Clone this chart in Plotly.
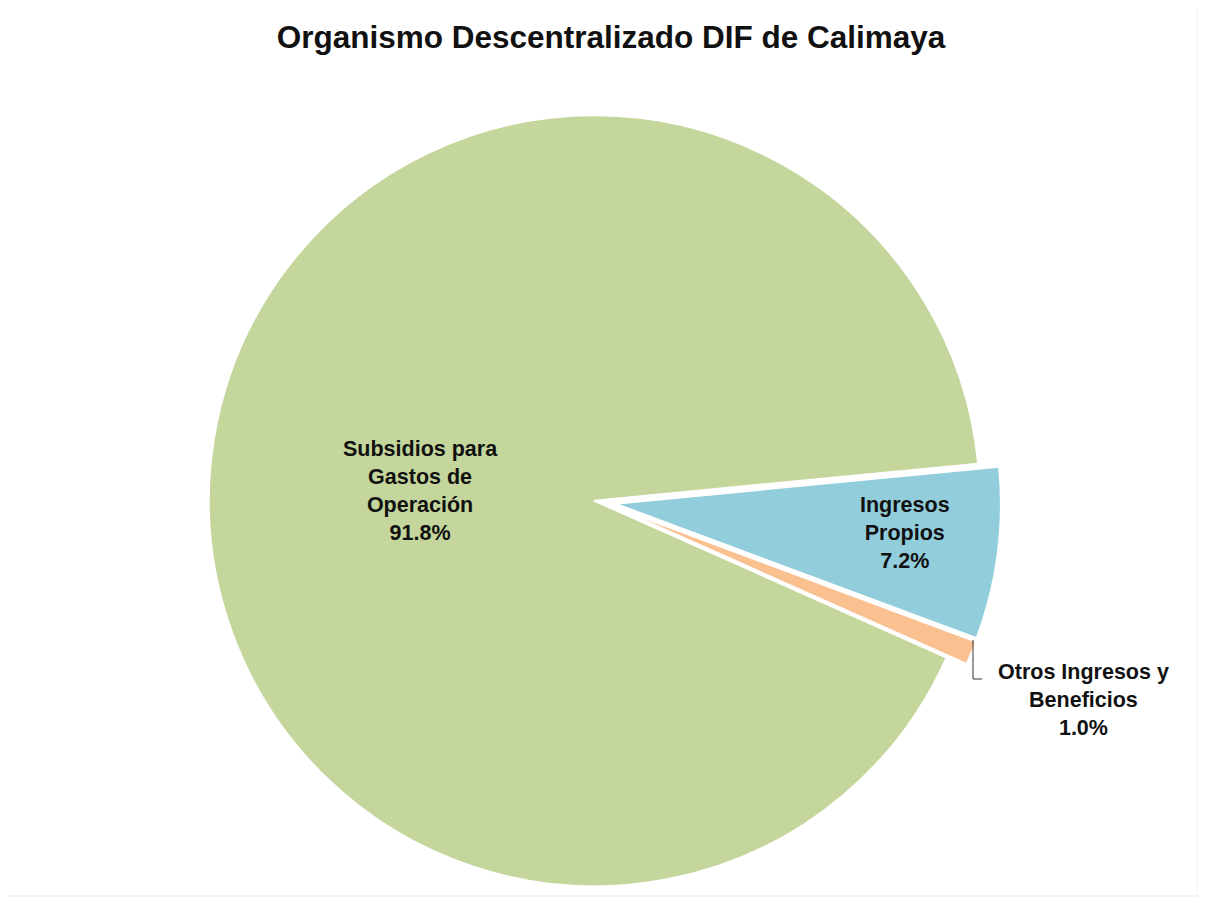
import plotly.graph_objects as go

labels = ["Subsidios para<br>Gastos de<br>Operación", "Ingresos<br>Propios", "Otros Ingresos y<br>Beneficios"]
values = [91.8, 7.2, 1.0]
colors = ["#C4D69B", "#92CDDC", "#FAC090"]
pulls = [0.02, 0.035, 0.035]
# label anchor positions (pixels) as placed in the original chart
label_x = [412, 897, 1075]
label_y = [483, 525, 692]

W, H = 1206, 903
cx, cy, ext = 594, 494, 399
FONT = "Liberation Sans, Arial"

fig = go.Figure(go.Pie(
    labels=labels,
    values=values,
    sort=False,
    direction="clockwise",
    rotation=114,
    pull=pulls,
    marker=dict(colors=colors, line=dict(color="white", width=2)),
    textinfo="none",
    showlegend=False,
    hoverinfo="label+percent",
    domain=dict(x=[max(0, (cx - ext) / W), min(1, (cx + ext) / W)],
                y=[max(0, 1 - (cy + ext) / H), min(1, 1 - (cy - ext) / H)]),
))

total = sum(values)
annotations = []
for lab, v, lx, ly in zip(labels, values, label_x, label_y):
    annotations.append(dict(
        text=f"<b>{lab}<br>{v / total * 100:.1f}%</b>",
        x=lx / W, y=1 - ly / H, xref="paper", yref="paper",
        xanchor="center", yanchor="middle", showarrow=False, align="center",
        font=dict(family=FONT, size=21.5, color="#111111"),
    ))

shapes = [
    dict(type="rect", xref="paper", yref="paper",
         x0=-2 / W, y0=1 - 888 / H, x1=1190 / W, y1=1 + 4 / H,
         line=dict(color="#E8E8E8", width=1)),
    # leader line for the small slice
    dict(type="path", xref="paper", yref="paper",
         path=f"M {965 / W},{1 - 632 / H} L {965 / W},{1 - 671 / H} L {974 / W},{1 - 671 / H}",
         line=dict(color="#333333", width=1)),
]

fig.update_layout(
    width=W, height=H,
    margin=dict(l=0, r=0, t=0, b=0),
    paper_bgcolor="white",
    plot_bgcolor="white",
    title=dict(text="<b>Organismo Descentralizado DIF de Calimaya</b>",
               x=0.5, xanchor="center", y=1 - 29 / H, yanchor="middle",
               font=dict(family=FONT, size=31.5, color="#111111")),
    annotations=annotations,
    shapes=shapes,
)

fig.write_html("out.html")
